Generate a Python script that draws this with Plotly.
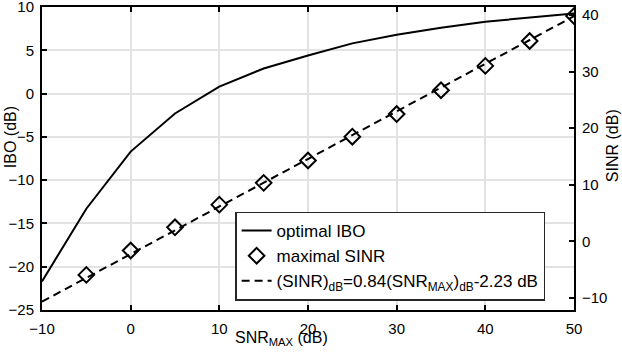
import plotly.graph_objects as go

# data
snr = [-10, -5, 0, 5, 10, 15, 20, 25, 30, 35, 40, 45, 50]
ibo_opt = [-21.7, -13.3, -6.7, -2.3, 0.8, 2.9, 4.4, 5.8, 6.8, 7.6, 8.3, 8.8, 9.25]

snr_pts = [-5, 0, 5, 10, 15, 20, 25, 30, 35, 40, 45, 50]
sinr_max = [-5.9, -1.6, 2.5, 6.5, 10.35, 14.3, 18.5, 22.5, 26.7, 31.0, 35.4, 39.8]

fit_x = [-10, 50]
fit_y = [-10.63, 39.77]  # 0.84*SNR - 2.23

FONT = "Liberation Sans, Arial, sans-serif"

fig = go.Figure()
fig.add_trace(go.Scatter(x=snr, y=ibo_opt, mode="lines", name="optimal IBO",
                         legendrank=1,
                         line=dict(color="black", width=2)))
# fit line first so the diamonds sit on top of it
fig.add_trace(go.Scatter(x=fit_x, y=fit_y, mode="lines", yaxis="y2", legendrank=3,
                         name="(SINR)<sub>dB</sub>=0.84(SNR<sub>MAX</sub>)<sub>dB</sub>-2.23 dB",
                         line=dict(color="black", width=2, dash="8px,5px")))
fig.add_trace(go.Scatter(x=snr_pts, y=sinr_max, mode="markers", name="maximal SINR",
                         yaxis="y2", legendrank=2,
                         marker=dict(symbol="diamond-open", size=12, color="black",
                                     line=dict(width=2, color="black"))))

axis_common = dict(showline=True, linecolor="black", linewidth=2,
                   ticks="inside", ticklen=5, tickwidth=1.5, tickcolor="black",
                   tickfont=dict(family=FONT, size=15, color="black"),
                   ticklabeloverflow="allow",
                   zeroline=False, automargin=False)

fig.update_layout(
    width=622, height=352,
    margin=dict(l=42, r=48, t=7, b=42),
    paper_bgcolor="white", plot_bgcolor="white",
    font=dict(family=FONT, color="black"),
    xaxis=dict(range=[-10, 50], dtick=10, tick0=-10, mirror="ticks",
               showgrid=True, gridcolor="#e3e3e3", gridwidth=1.5,
               ticklabelstandoff=4, **axis_common),
    yaxis=dict(range=[-25, 10], dtick=5, tick0=-25,
               showgrid=True, gridcolor="#e3e3e3", gridwidth=1.5,
               ticklabelstandoff=3, **axis_common),
    yaxis2=dict(range=[-12.1, 41.4], dtick=10, tick0=-10, overlaying="y", side="right",
                showgrid=False, ticklabelstandoff=3, **axis_common),
    legend=dict(x=0.363, y=0.325, xanchor="left", yanchor="top",
                bgcolor="white", bordercolor="#262626", borderwidth=1.5,
                font=dict(family=FONT, size=17, color="black"),
                itemwidth=30, tracegroupgap=0, traceorder="normal"),
    showlegend=True,
)

fig.add_annotation(text="SNR<sub>MAX</sub> (dB)", xref="paper", yref="paper",
                   x=(281 - 42) / 532, y=(310 - 339) / 303.3, xanchor="center", yanchor="middle",
                   showarrow=False, font=dict(family=FONT, size=16, color="black"))
fig.add_annotation(text="IBO (dB)", xref="paper", yref="paper",
                   x=(10 - 42) / 532, y=(310 - 137) / 303.3, xanchor="center", yanchor="middle",
                   textangle=-90, showarrow=False, font=dict(family=FONT, size=16, color="black"))
fig.add_annotation(text="SINR (dB)", xref="paper", yref="paper",
                   x=(612 - 42) / 532, y=(310 - 146) / 303.3, xanchor="center", yanchor="middle",
                   textangle=-90, showarrow=False, font=dict(family=FONT, size=16, color="black"))

# drop the page's default body margin so the figure sits at the window corner
fig.write_html("out.html", config={"displayModeBar": False},
               post_script="document.body.style.margin='0';")
